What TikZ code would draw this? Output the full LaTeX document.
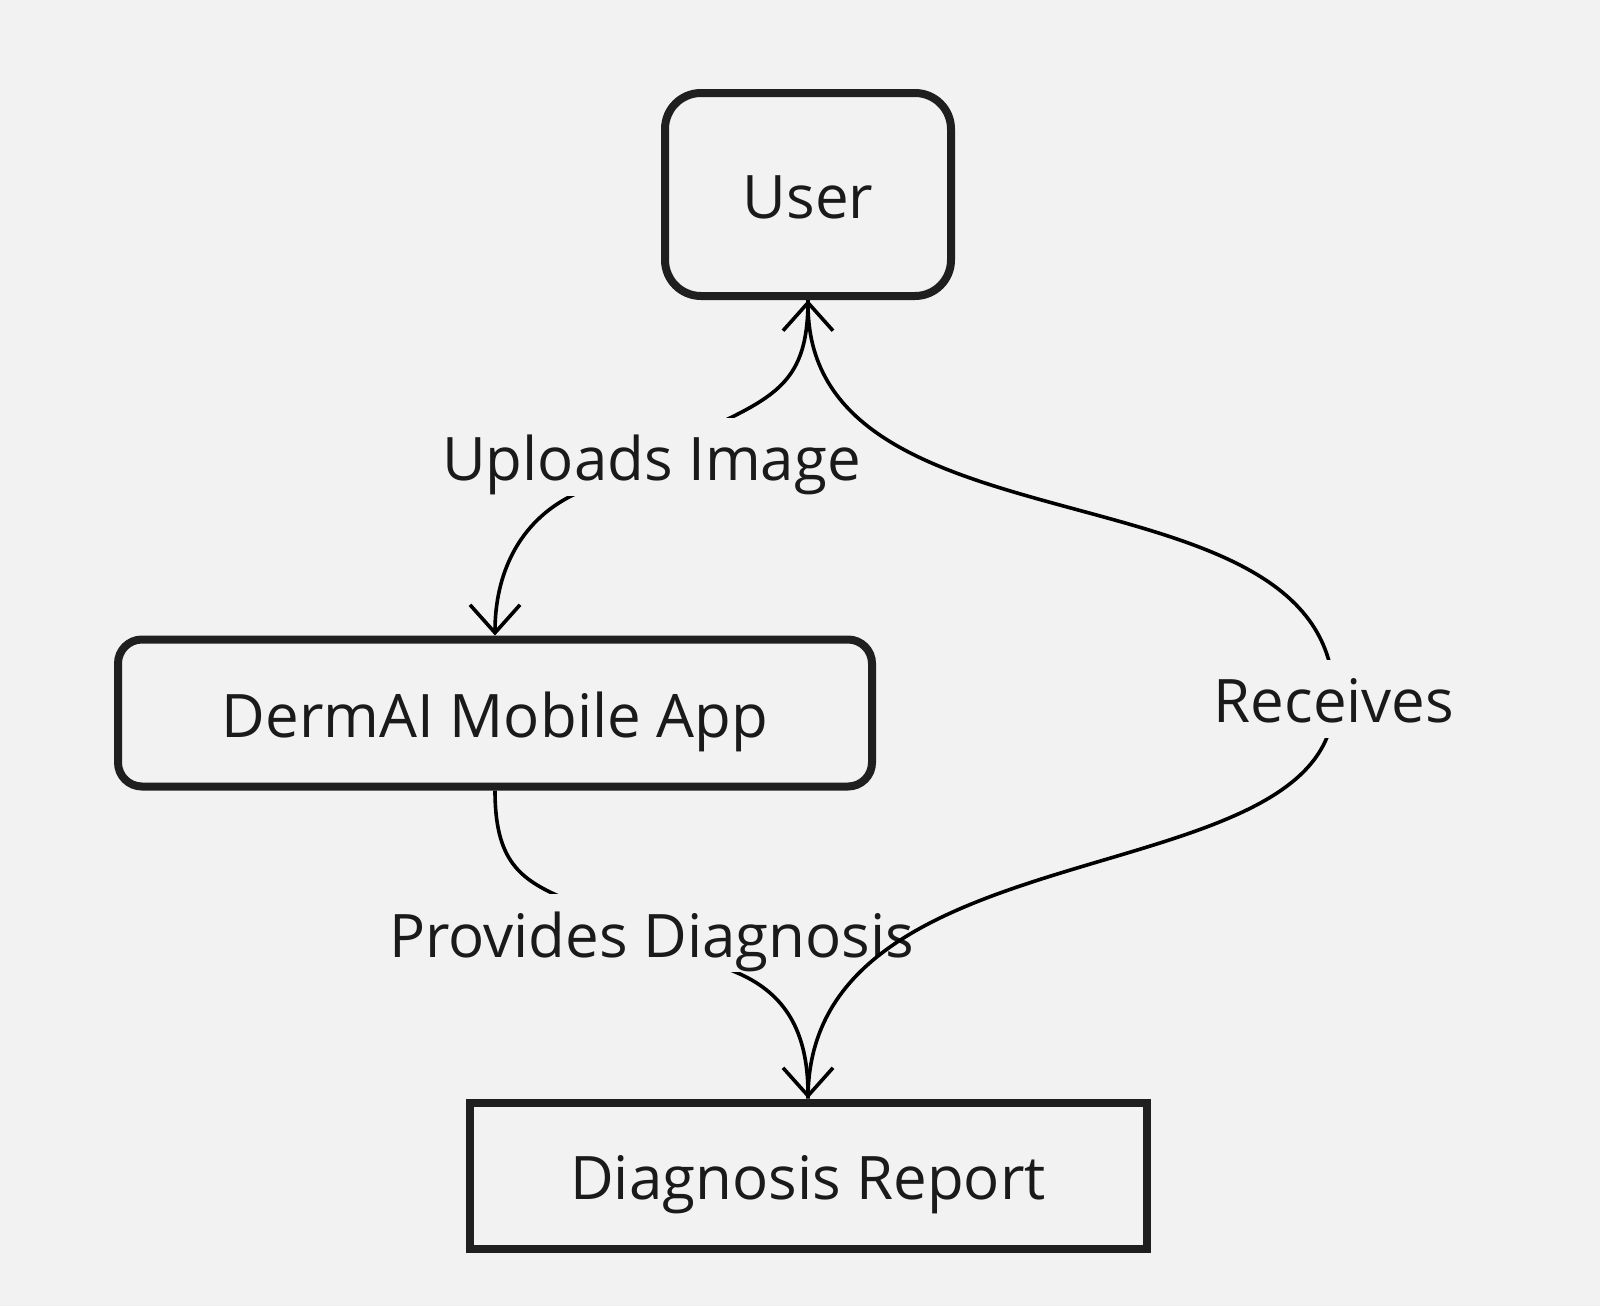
\documentclass[tikz,border=0pt]{standalone}
\usepackage{fontspec}
\setmainfont{Open Sans}
\usetikzlibrary{arrows.meta}
\definecolor{bg}{HTML}{F2F2F2}
\definecolor{ink}{HTML}{1F1F1F}
\definecolor{txt}{HTML}{1A1A1A}
\begin{document}
\begin{tikzpicture}[x=0.5pt,y=-0.5pt,
  box/.style={draw=ink, line width=4pt, text=txt, font=\fontsize{30}{36}\selectfont,
    text height=31.5pt, text depth=7.5pt, inner sep=0pt, align=center},
  rbox/.style={box, rounded corners=18pt},
  lbl/.style={fill=bg, text=txt, font=\fontsize{30}{36}\selectfont,
    inner xsep=1pt, inner ysep=0pt, text height=31.5pt, text depth=7.5pt},
  conn/.style={draw=black, line width=1.8pt, -{Straight Barb[length=14pt,width=25pt]}}]
\fill[bg] (0,0) rectangle (1600,1306);
\useasboundingbox (0,0) rectangle (1600,1306);

\node[rbox, minimum width=143pt, minimum height=101.5pt] (user) at (808,194.5) {User};
\node[box, rounded corners=12pt, minimum width=377pt, minimum height=73.5pt] (app) at (495,713) {DermAI Mobile App};
\node[box, minimum width=338.5pt, minimum height=73pt] (report) at (808,1175.5) {Diagnosis Report};

\draw[conn] (user.south) .. controls (808,370) and (785,391) .. (730,418) -- (573,495)
  .. controls (518,522) and (495,575) .. (app.north);
\draw[conn] (app.south) .. controls (495,860) and (519,879) .. (563,898) -- (740,974)
  .. controls (784,994) and (808,1030) .. (report.north);
\node[lbl] (l1) at (651.5,456.5) {Uploads Image};
\node[lbl] (l2) at (651.5,933) {Provides Diagnosis};

\draw[conn] (report.north) .. controls (808,820) and (1334,900) .. (1334,700)
  .. controls (1334,455) and (808,565) .. (user.south);
\node[lbl] (l3) at (1334,698.5) {Receives};
\end{tikzpicture}
\end{document}
